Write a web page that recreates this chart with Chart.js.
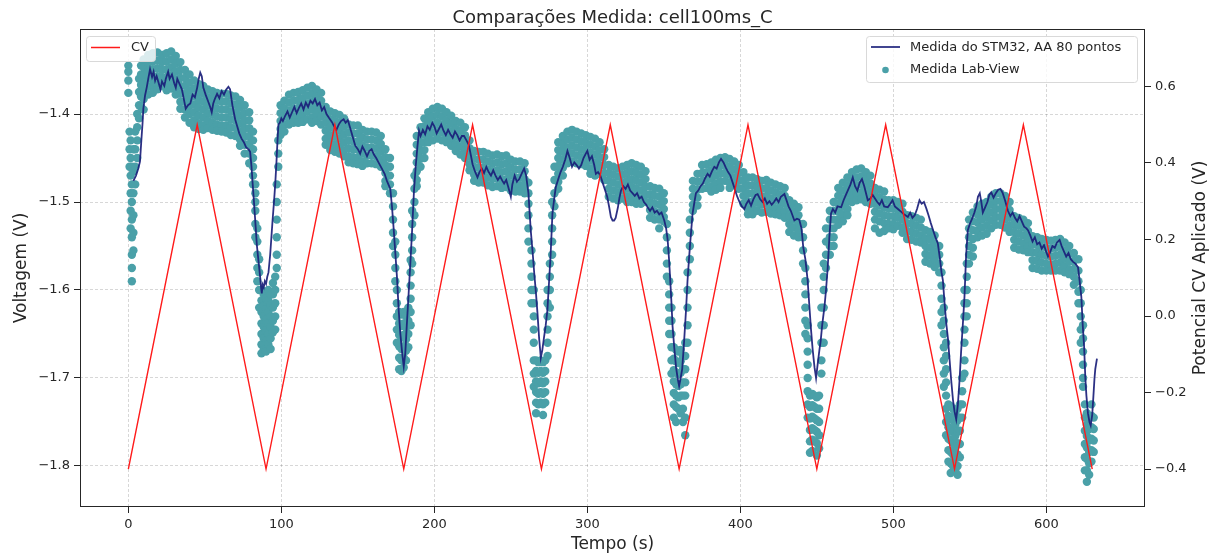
<!DOCTYPE html>
<html>
<head>
<meta charset="utf-8">
<script src="https://cdn.jsdelivr.net/npm/chart.js@4/dist/chart.umd.min.js"></script>
<style>
  html, body { margin: 0; padding: 0; background: #fff; }
  #wrap { width: 1217px; height: 559px; position: relative; }
</style>
</head>
<body>
<div id="wrap"><canvas id="grafico"></canvas></div>
<script>
// Potencial CV aplicado (onda triangular), eixo direito
const tempoCV = [0, 45, 90, 135, 180, 225, 270, 315, 360, 405, 450, 495, 540, 585, 630];
const cvAplicado = [-0.4, 0.5, -0.4, 0.5, -0.4, 0.5, -0.4, 0.5, -0.4, 0.5, -0.4, 0.5, -0.4, 0.5, -0.4];

// Ticks
const ticksTempo = [0, 100, 200, 300, 400, 500, 600];
const ticksVoltagem = [-1.8, -1.7, -1.6, -1.5, -1.4];
const ticksCV = [-0.4, -0.2, 0, 0.2, 0.4, 0.6];

// Medida do STM32 (media de 80 pontos): [tempo, voltagem]
const stmMedida = [
  [3.3,-1.476],[5,-1.47],[6.5,-1.462],[7.6,-1.454],[8.5,-1.43],[9.3,-1.41],[9.8,-1.394],[10.9,-1.379],[12,-1.37],[13,-1.36],
  [14.2,-1.349],[15.5,-1.358],[16.5,-1.352],[17.5,-1.362],[18.5,-1.357],[20,-1.366],[21,-1.372],[22,-1.363],[23.5,-1.368],[24.5,-1.36],
  [26,-1.352],[27,-1.36],[28.5,-1.355],[30,-1.365],[31,-1.37],[32,-1.36],[33.5,-1.366],[35,-1.372],[36.5,-1.385],[37.5,-1.394],
  [39,-1.39],[40.5,-1.388],[42,-1.378],[43.5,-1.381],[45,-1.37],[46,-1.36],[47,-1.353],[48,-1.357],[49,-1.37],[50.5,-1.378],
  [52,-1.385],[53.5,-1.392],[54.5,-1.398],[55.5,-1.388],[56.5,-1.383],[58,-1.377],[59.5,-1.382],[61,-1.374],[62.5,-1.378],[64,-1.372],
  [65.4,-1.369],[66.5,-1.372],[68,-1.39],[69.8,-1.406],[71,-1.413],[72.5,-1.422],[74,-1.428],[75.5,-1.432],[77,-1.438],[78.5,-1.44],
  [79.6,-1.443],[80.5,-1.46],[81.2,-1.478],[81.8,-1.492],[82.5,-1.51],[83.2,-1.528],[84,-1.549],[85,-1.566],[86.2,-1.586],[86.8,-1.598],
  [87.2,-1.604],[87.8,-1.594],[88.5,-1.597],[89.2,-1.59],[90,-1.593],[90.8,-1.585],[91.6,-1.58],[92.7,-1.56],[93.5,-1.54],[94.3,-1.52],
  [95.2,-1.5],[96,-1.48],[96.8,-1.455],[97.5,-1.43],[98.1,-1.412],[99,-1.41],[100,-1.405],[101,-1.408],[102.5,-1.402],[104,-1.397],
  [105.5,-1.404],[107,-1.398],[108.5,-1.392],[110,-1.399],[111.5,-1.393],[113,-1.388],[114.5,-1.395],[116,-1.387],[117.5,-1.392],[119,-1.385],
  [120.5,-1.388],[122,-1.383],[123.5,-1.39],[125,-1.387],[126.5,-1.396],[128,-1.392],[129.5,-1.4],[131,-1.404],[133,-1.409],[134.5,-1.414],
  [136,-1.418],[137.5,-1.412],[139,-1.408],[140.7,-1.406],[142,-1.41],[143.5,-1.407],[145,-1.416],[146.5,-1.425],[148.3,-1.436],[150,-1.44],
  [151.5,-1.445],[153,-1.437],[154.5,-1.442],[156,-1.448],[157.5,-1.442],[159,-1.44],[160.5,-1.446],[162,-1.45],[163.5,-1.455],[165.7,-1.462],
  [167.5,-1.468],[169,-1.476],[171.2,-1.485],[172.3,-1.505],[173.4,-1.53],[174.5,-1.558],[175.6,-1.586],[176.7,-1.623],[177.8,-1.65],[179,-1.672],
  [180,-1.687],[181,-1.672],[182,-1.64],[183.2,-1.604],[184.3,-1.57],[185.4,-1.535],[186.7,-1.487],[187.8,-1.46],[188.9,-1.438],[190,-1.419],
  [191,-1.425],[192.5,-1.418],[194,-1.423],[195.5,-1.414],[197,-1.418],[198.7,-1.41],[200,-1.414],[201.5,-1.422],[203,-1.417],[204.5,-1.412],
  [206,-1.419],[207.5,-1.424],[209,-1.418],[210.5,-1.423],[212,-1.427],[213.5,-1.42],[215,-1.424],[216.5,-1.43],[218,-1.425],[219.4,-1.425],
  [221,-1.43],[222.5,-1.435],[224,-1.448],[225,-1.457],[226.5,-1.465],[228.2,-1.472],[229.5,-1.466],[231,-1.462],[232.5,-1.467],[234,-1.46],
  [235.5,-1.466],[237,-1.47],[238.5,-1.464],[240,-1.47],[241.5,-1.475],[243,-1.471],[244.5,-1.476],[245.6,-1.479],[247,-1.475],[248.5,-1.484],
  [250,-1.494],[251,-1.48],[252.5,-1.47],[254,-1.477],[255.5,-1.474],[257,-1.468],[258.7,-1.462],[260,-1.47],[261.5,-1.49],[263,-1.532],
  [264.2,-1.556],[265.3,-1.581],[266.4,-1.603],[267.4,-1.626],[268.5,-1.655],[269.6,-1.677],[270.6,-1.668],[271.6,-1.655],[272.8,-1.64],[273.9,-1.623],
  [275,-1.59],[276,-1.56],[277.2,-1.513],[278.3,-1.497],[279.4,-1.483],[281,-1.474],[282.5,-1.466],[284,-1.46],[285.5,-1.452],[287,-1.442],
  [288.5,-1.45],[290,-1.46],[291.5,-1.455],[293,-1.458],[294.5,-1.462],[296,-1.458],[297.5,-1.45],[299,-1.445],[300,-1.442],[301.5,-1.452],
  [303,-1.448],[304.5,-1.458],[305.6,-1.468],[307,-1.466],[308.5,-1.47],[310,-1.478],[311.5,-1.486],[313,-1.494],[314.3,-1.506],[315.4,-1.517],
  [316.5,-1.521],[317.5,-1.521],[318.5,-1.518],[320,-1.506],[321,-1.495],[322,-1.487],[323.5,-1.482],[325,-1.485],[326.5,-1.48],[328,-1.487],
  [329.5,-1.49],[331,-1.493],[332.5,-1.49],[334,-1.496],[335.5,-1.494],[337,-1.5],[338.5,-1.503],[339.4,-1.506],[341,-1.51],[342.5,-1.506],
  [344,-1.512],[345.5,-1.51],[347,-1.514],[348.5,-1.512],[350.3,-1.521],[351.5,-1.53],[352.5,-1.543],[353.4,-1.565],[354.2,-1.589],[355,-1.615],
  [355.7,-1.641],[356.8,-1.665],[358,-1.688],[359,-1.7],[360,-1.709],[361,-1.7],[362,-1.69],[363.2,-1.66],[364.5,-1.623],[365.5,-1.589],
  [366.4,-1.566],[367.3,-1.545],[368.8,-1.513],[370,-1.5],[371,-1.49],[372.5,-1.487],[374,-1.482],[375.5,-1.479],[377,-1.473],[378.6,-1.468],
  [380,-1.471],[381.5,-1.465],[383,-1.46],[384.5,-1.462],[386,-1.455],[387.4,-1.451],[389,-1.455],[390.5,-1.461],[392,-1.466],[393.5,-1.47],
  [395,-1.478],[396.5,-1.486],[398,-1.494],[399.5,-1.5],[401,-1.505],[402.6,-1.508],[404,-1.502],[405.5,-1.498],[407,-1.504],[408.5,-1.497],
  [410,-1.492],[411.3,-1.491],[413,-1.497],[414.5,-1.5],[416,-1.496],[417.5,-1.502],[419,-1.499],[420.5,-1.503],[422,-1.5],[423.5,-1.496],
  [425,-1.5],[426.5,-1.494],[428.8,-1.491],[430,-1.497],[431.5,-1.505],[433,-1.51],[435.3,-1.521],[437,-1.519],[438.5,-1.52],[440,-1.53],
  [441.1,-1.551],[442.5,-1.565],[444,-1.589],[445,-1.615],[446.2,-1.645],[447.3,-1.668],[448.5,-1.688],[449.5,-1.7],[450.5,-1.685],[451.7,-1.668],
  [452.5,-1.658],[453.5,-1.64],[455,-1.619],[456,-1.6],[457.1,-1.575],[458.2,-1.54],[459.3,-1.513],[460.5,-1.508],[462,-1.512],[463.5,-1.505],
  [465.9,-1.506],[467.5,-1.498],[469,-1.492],[470.5,-1.486],[472,-1.48],[473.5,-1.472],[475,-1.482],[476.5,-1.487],[478,-1.478],[479.5,-1.474],
  [481,-1.482],[483.3,-1.498],[485,-1.496],[486.5,-1.492],[488,-1.496],[489.5,-1.5],[491,-1.503],[492.5,-1.498],[494,-1.505],[496.4,-1.506],
  [498,-1.502],[499.5,-1.498],[501,-1.505],[503,-1.508],[505,-1.511],[507,-1.514],[509.5,-1.517],[511,-1.512],[512.5,-1.518],[514,-1.515],
  [515.5,-1.508],[517.1,-1.498],[518.5,-1.502],[520,-1.5],[521.5,-1.507],[523,-1.515],[524.5,-1.524],[526,-1.532],[527.5,-1.54],[529.1,-1.547],
  [530.5,-1.565],[531.5,-1.58],[532.4,-1.589],[533.5,-1.615],[534.6,-1.638],[535.7,-1.655],[536.8,-1.68],[537.8,-1.702],[539,-1.725],[540,-1.738],
  [541.1,-1.747],[542.2,-1.73],[543.3,-1.702],[544.3,-1.67],[545.4,-1.64],[546.5,-1.608],[547.6,-1.56],[548.7,-1.532],[550,-1.525],[551.5,-1.519],
  [553,-1.512],[554.2,-1.505],[555.3,-1.494],[556.5,-1.49],[557.5,-1.5],[558.5,-1.512],[560,-1.506],[561.5,-1.5],[562.7,-1.492],[564,-1.489],
  [565.5,-1.495],[567,-1.49],[568.5,-1.486],[570,-1.485],[571.5,-1.49],[573,-1.498],[574.9,-1.51],[576.5,-1.516],[578,-1.512],[579.5,-1.518],
  [581,-1.522],[582.5,-1.516],[584,-1.522],[585.5,-1.528],[587,-1.53],[588,-1.532],[589.5,-1.538],[591,-1.545],[592.5,-1.54],[594,-1.548],
  [595.5,-1.546],[597,-1.553],[598.5,-1.549],[600,-1.557],[601.1,-1.562],[602.5,-1.557],[604,-1.55],[605.5,-1.552],[607,-1.546],[608.7,-1.543],
  [610,-1.55],[611.5,-1.556],[613,-1.562],[614.5,-1.558],[616,-1.565],[617.5,-1.568],[619,-1.57],[620.7,-1.574],[621.8,-1.59],[622.9,-1.608],
  [623.8,-1.64],[624.7,-1.664],[625.5,-1.7],[626.2,-1.72],[627.2,-1.74],[628.2,-1.75],[629,-1.754],[630,-1.742],[630.8,-1.72],[631.5,-1.7],
  [632,-1.69],[633.1,-1.678]
];

// Medida Lab-View: cada linha e [tempo, voltagens medidas naquele instante...]
const labColunas = [
  [0,-1.345,-1.352,-1.362,-1.376],
  [0.8,-1.42,-1.44,-1.46],
  [1.5,-1.43,-1.45,-1.47,-1.49,-1.51,-1.53],
  [2.3,-1.46,-1.48,-1.5,-1.52,-1.54,-1.56,-1.575,-1.59],
  [3.3,-1.44,-1.465,-1.49,-1.515,-1.535,-1.555],
  [4.5,-1.42,-1.44,-1.46,-1.48],
  [5.8,-1.4,-1.415,-1.43,-1.45],
  [7,-1.36,-1.375,-1.39,-1.405],
  [8.3,-1.345,-1.355,-1.367,-1.38,-1.392],
  [10,-1.338,-1.347,-1.356,-1.365,-1.374,-1.383,-1.395],
  [13,-1.333,-1.342,-1.351,-1.36,-1.369,-1.378],
  [16,-1.331,-1.34,-1.349,-1.358,-1.367,-1.376],
  [19,-1.33,-1.339,-1.348,-1.357,-1.366,-1.372],
  [22,-1.333,-1.341,-1.35,-1.359,-1.368],
  [25,-1.331,-1.34,-1.349,-1.358,-1.367,-1.373],
  [28,-1.329,-1.338,-1.347,-1.356,-1.365,-1.371],
  [31,-1.334,-1.343,-1.352,-1.361,-1.37,-1.378],
  [34,-1.341,-1.35,-1.359,-1.368,-1.377,-1.386,-1.394],
  [37,-1.35,-1.359,-1.368,-1.377,-1.386,-1.395,-1.404],
  [40,-1.355,-1.364,-1.373,-1.382,-1.391,-1.4,-1.41],
  [43,-1.362,-1.371,-1.38,-1.389,-1.398,-1.407,-1.415],
  [46,-1.366,-1.375,-1.384,-1.393,-1.402,-1.411,-1.417],
  [49,-1.368,-1.377,-1.386,-1.395,-1.404,-1.413,-1.418],
  [52,-1.372,-1.381,-1.39,-1.399,-1.408,-1.416],
  [55,-1.374,-1.383,-1.392,-1.401,-1.41,-1.418],
  [58,-1.376,-1.385,-1.394,-1.403,-1.412,-1.419],
  [61,-1.377,-1.386,-1.395,-1.404,-1.413,-1.42],
  [64,-1.377,-1.386,-1.395,-1.404,-1.413,-1.421],
  [67,-1.379,-1.388,-1.397,-1.406,-1.415,-1.424],
  [70,-1.38,-1.389,-1.398,-1.407,-1.416,-1.425],
  [73,-1.384,-1.393,-1.402,-1.411,-1.42,-1.429,-1.436],
  [76,-1.39,-1.399,-1.408,-1.417,-1.426,-1.435,-1.445],
  [79,-1.398,-1.407,-1.416,-1.425,-1.434,-1.445,-1.456],
  [81.5,-1.42,-1.43,-1.44,-1.45,-1.46,-1.47,-1.48],
  [83,-1.48,-1.49,-1.5,-1.51,-1.525,-1.54],
  [84.3,-1.53,-1.545,-1.56,-1.575,-1.59],
  [85.5,-1.565,-1.58,-1.6,-1.62],
  [87,-1.6,-1.612,-1.625,-1.638,-1.65,-1.662,-1.672],
  [88.5,-1.605,-1.618,-1.63,-1.642,-1.655,-1.668],
  [90,-1.61,-1.622,-1.634,-1.646,-1.658,-1.67],
  [91.5,-1.6,-1.612,-1.625,-1.638,-1.65,-1.662],
  [93,-1.605,-1.617,-1.63,-1.642,-1.655,-1.667],
  [94.5,-1.592,-1.605,-1.62,-1.635,-1.648],
  [96,-1.585,-1.6,-1.615,-1.63,-1.645],
  [97,-1.48,-1.5,-1.52,-1.54,-1.56,-1.575],
  [98,-1.43,-1.445,-1.46],
  [99.5,-1.39,-1.399,-1.408,-1.417,-1.424],
  [102,-1.385,-1.394,-1.403,-1.412,-1.42],
  [105,-1.378,-1.387,-1.396,-1.405,-1.412],
  [108,-1.376,-1.385,-1.394,-1.403,-1.41],
  [111,-1.375,-1.384,-1.393,-1.402,-1.41],
  [114,-1.373,-1.382,-1.391,-1.4,-1.409],
  [117,-1.37,-1.379,-1.388,-1.397,-1.406],
  [120,-1.368,-1.377,-1.386,-1.395,-1.404,-1.41],
  [123,-1.372,-1.381,-1.39,-1.399,-1.408],
  [126,-1.376,-1.385,-1.394,-1.403,-1.412],
  [129,-1.392,-1.401,-1.41,-1.419,-1.428,-1.435],
  [132,-1.397,-1.406,-1.415,-1.424,-1.433,-1.441],
  [135,-1.399,-1.408,-1.417,-1.426,-1.435,-1.443],
  [138,-1.401,-1.41,-1.419,-1.428,-1.437,-1.445],
  [141,-1.405,-1.414,-1.423,-1.432,-1.441,-1.448],
  [144,-1.412,-1.421,-1.43,-1.439,-1.448,-1.455],
  [147,-1.413,-1.422,-1.431,-1.44,-1.449,-1.456],
  [150,-1.413,-1.422,-1.431,-1.44,-1.449,-1.457],
  [153,-1.418,-1.427,-1.436,-1.445,-1.454,-1.459],
  [156,-1.42,-1.429,-1.438,-1.447,-1.456],
  [159,-1.42,-1.429,-1.438,-1.447,-1.456],
  [162,-1.421,-1.43,-1.439,-1.448,-1.457],
  [165,-1.425,-1.434,-1.443,-1.452,-1.46],
  [168,-1.44,-1.449,-1.458,-1.467,-1.476,-1.482],
  [171,-1.45,-1.46,-1.47,-1.48,-1.49],
  [173,-1.49,-1.505,-1.52,-1.535,-1.55],
  [174.5,-1.545,-1.56,-1.575,-1.59],
  [175.5,-1.6,-1.615,-1.63,-1.645,-1.66],
  [177,-1.625,-1.638,-1.651,-1.664,-1.677,-1.69],
  [178.5,-1.628,-1.641,-1.654,-1.667,-1.68,-1.692],
  [180,-1.625,-1.638,-1.651,-1.664,-1.677,-1.688],
  [181.5,-1.63,-1.643,-1.656,-1.669,-1.68],
  [183,-1.62,-1.635,-1.65,-1.665],
  [184.5,-1.566,-1.58,-1.595,-1.61,-1.625,-1.64],
  [185.5,-1.51,-1.525,-1.54,-1.555,-1.57],
  [187,-1.47,-1.485,-1.5,-1.515],
  [188.5,-1.425,-1.435,-1.445,-1.455,-1.465,-1.475,-1.482],
  [191,-1.415,-1.424,-1.433,-1.442,-1.451,-1.46],
  [193.5,-1.405,-1.414,-1.423,-1.432,-1.441,-1.45],
  [196,-1.398,-1.407,-1.416,-1.425,-1.432],
  [199,-1.394,-1.403,-1.412,-1.421,-1.43],
  [202,-1.392,-1.401,-1.41,-1.419,-1.428],
  [205,-1.394,-1.403,-1.412,-1.421,-1.43],
  [208,-1.398,-1.407,-1.416,-1.425,-1.432],
  [211,-1.402,-1.411,-1.42,-1.429,-1.436],
  [214,-1.408,-1.417,-1.426,-1.435,-1.442],
  [217,-1.41,-1.419,-1.428,-1.437,-1.446],
  [220,-1.415,-1.424,-1.433,-1.442,-1.45],
  [223,-1.43,-1.439,-1.448,-1.457,-1.464],
  [226,-1.442,-1.451,-1.46,-1.469,-1.476],
  [229,-1.443,-1.452,-1.461,-1.47,-1.478],
  [232,-1.443,-1.452,-1.461,-1.47,-1.478],
  [235,-1.445,-1.454,-1.463,-1.472,-1.481],
  [238,-1.447,-1.456,-1.465,-1.474,-1.483],
  [241,-1.446,-1.455,-1.464,-1.473,-1.482],
  [244,-1.448,-1.457,-1.466,-1.475,-1.484],
  [247,-1.447,-1.456,-1.465,-1.474,-1.483],
  [250,-1.452,-1.461,-1.47,-1.479,-1.487],
  [253,-1.454,-1.463,-1.472,-1.481,-1.488],
  [256,-1.454,-1.463,-1.472,-1.481,-1.488],
  [259,-1.456,-1.465,-1.474,-1.483,-1.49],
  [261.5,-1.478,-1.49,-1.502,-1.515,-1.53,-1.545],
  [263.5,-1.555,-1.57,-1.585,-1.6,-1.615],
  [265,-1.6,-1.615,-1.63,-1.645,-1.66,-1.68,-1.695,-1.71],
  [266.5,-1.68,-1.692,-1.704,-1.716,-1.728,-1.74],
  [268,-1.682,-1.694,-1.706,-1.718,-1.73],
  [269.5,-1.68,-1.692,-1.704,-1.716,-1.728],
  [271,-1.682,-1.694,-1.706,-1.718,-1.73,-1.742],
  [272.5,-1.68,-1.692,-1.704,-1.716,-1.728],
  [274,-1.6,-1.615,-1.63,-1.645,-1.66,-1.675],
  [275.5,-1.57,-1.585,-1.6,-1.62],
  [277,-1.5,-1.515,-1.53,-1.545,-1.56],
  [278.5,-1.46,-1.475,-1.49,-1.505],
  [281,-1.432,-1.441,-1.45,-1.459,-1.468,-1.477,-1.485],
  [284,-1.425,-1.434,-1.443,-1.452,-1.461,-1.47],
  [287,-1.42,-1.429,-1.438,-1.447,-1.456],
  [290,-1.418,-1.427,-1.436,-1.445,-1.454],
  [293,-1.42,-1.429,-1.438,-1.447,-1.456],
  [296,-1.422,-1.431,-1.44,-1.449,-1.457],
  [299,-1.424,-1.433,-1.442,-1.451,-1.459],
  [302,-1.426,-1.435,-1.444,-1.453,-1.462,-1.468],
  [305,-1.428,-1.437,-1.446,-1.455,-1.464,-1.47],
  [308,-1.432,-1.441,-1.45,-1.459,-1.468],
  [311,-1.44,-1.449,-1.458,-1.467,-1.475],
  [314,-1.458,-1.467,-1.476,-1.485,-1.494],
  [317,-1.46,-1.469,-1.478,-1.487,-1.496],
  [320,-1.462,-1.471,-1.48,-1.489,-1.498],
  [323,-1.46,-1.469,-1.478,-1.487,-1.496],
  [326,-1.458,-1.467,-1.476,-1.485,-1.494,-1.5],
  [329,-1.456,-1.465,-1.474,-1.483,-1.492,-1.5],
  [332,-1.458,-1.467,-1.476,-1.485,-1.494,-1.502],
  [335,-1.46,-1.469,-1.478,-1.487,-1.496,-1.502],
  [338,-1.465,-1.474,-1.483,-1.492,-1.5],
  [341,-1.482,-1.491,-1.5,-1.509,-1.518],
  [344,-1.484,-1.493,-1.502,-1.511,-1.52],
  [347,-1.485,-1.494,-1.503,-1.512,-1.52,-1.53],
  [350,-1.49,-1.499,-1.508,-1.517,-1.522],
  [352,-1.525,-1.54,-1.555,-1.57,-1.585],
  [353.5,-1.59,-1.605,-1.62,-1.635,-1.65],
  [355,-1.62,-1.635,-1.65,-1.665,-1.68,-1.695],
  [356.5,-1.665,-1.678,-1.691,-1.704,-1.717,-1.73,-1.745],
  [358,-1.668,-1.681,-1.694,-1.707,-1.72,-1.733,-1.75],
  [359.5,-1.67,-1.683,-1.696,-1.709,-1.722,-1.735],
  [361,-1.668,-1.681,-1.694,-1.707,-1.72,-1.74],
  [362.5,-1.675,-1.69,-1.705,-1.72,-1.735,-1.75],
  [364,-1.66,-1.675,-1.69,-1.705,-1.72,-1.745,-1.765],
  [365.5,-1.58,-1.6,-1.62,-1.64,-1.66],
  [367,-1.52,-1.535,-1.55,-1.565],
  [369,-1.476,-1.485,-1.494,-1.503,-1.51],
  [372,-1.468,-1.477,-1.486,-1.495,-1.504],
  [375,-1.458,-1.467,-1.476,-1.485],
  [378,-1.457,-1.466,-1.475,-1.484],
  [381,-1.455,-1.464,-1.473,-1.482,-1.488],
  [384,-1.452,-1.461,-1.47,-1.479,-1.486],
  [387,-1.45,-1.459,-1.468,-1.477,-1.484],
  [390,-1.449,-1.458,-1.467,-1.476],
  [393,-1.451,-1.46,-1.469,-1.478,-1.484],
  [396,-1.454,-1.463,-1.472,-1.481],
  [399,-1.458,-1.467,-1.476,-1.485],
  [402,-1.466,-1.475,-1.484,-1.493,-1.502],
  [405,-1.472,-1.481,-1.49,-1.499,-1.508,-1.514],
  [408,-1.472,-1.481,-1.49,-1.499,-1.508,-1.514],
  [411,-1.474,-1.483,-1.492,-1.501,-1.51],
  [414,-1.476,-1.485,-1.494,-1.503,-1.512],
  [417,-1.475,-1.484,-1.493,-1.502,-1.511],
  [420,-1.478,-1.487,-1.496,-1.505,-1.513],
  [423,-1.48,-1.489,-1.498,-1.507,-1.514],
  [426,-1.482,-1.491,-1.5,-1.509,-1.515],
  [429,-1.484,-1.493,-1.502,-1.511,-1.518],
  [432,-1.498,-1.507,-1.516,-1.525,-1.534],
  [435,-1.502,-1.511,-1.52,-1.529,-1.538],
  [438,-1.506,-1.515,-1.524,-1.533,-1.54],
  [441,-1.525,-1.54,-1.555,-1.57],
  [442.5,-1.575,-1.59,-1.605,-1.62,-1.635,-1.65],
  [444,-1.64,-1.655,-1.67,-1.685,-1.7,-1.715,-1.73,-1.745],
  [445.5,-1.72,-1.733,-1.746,-1.759,-1.772,-1.785],
  [447,-1.718,-1.731,-1.744,-1.757,-1.77,-1.783],
  [448.5,-1.72,-1.733,-1.746,-1.759,-1.772],
  [450,-1.722,-1.735,-1.748,-1.761,-1.774,-1.788],
  [451.5,-1.72,-1.735,-1.75,-1.765,-1.78],
  [453,-1.62,-1.64,-1.66,-1.68,-1.695],
  [454.5,-1.57,-1.585,-1.6,-1.62,-1.64,-1.66],
  [456,-1.53,-1.545,-1.56,-1.575],
  [458.5,-1.51,-1.52,-1.53,-1.54,-1.55,-1.56],
  [461,-1.5,-1.51,-1.52,-1.53,-1.54,-1.55],
  [464,-1.484,-1.493,-1.502,-1.511,-1.52,-1.526],
  [467,-1.478,-1.487,-1.496,-1.505,-1.514,-1.522],
  [470,-1.472,-1.481,-1.49,-1.499,-1.508,-1.515],
  [473,-1.466,-1.475,-1.484,-1.493,-1.5],
  [476,-1.463,-1.472,-1.481,-1.49,-1.498],
  [479,-1.462,-1.471,-1.48,-1.489,-1.497],
  [482,-1.466,-1.475,-1.484,-1.493,-1.5],
  [485,-1.47,-1.479,-1.488,-1.497,-1.502],
  [488,-1.484,-1.493,-1.502,-1.511,-1.52,-1.53],
  [491,-1.486,-1.495,-1.504,-1.513,-1.522,-1.535],
  [494,-1.488,-1.497,-1.506,-1.515,-1.524,-1.533],
  [497,-1.498,-1.507,-1.516,-1.525,-1.53],
  [500,-1.498,-1.507,-1.516,-1.525,-1.531],
  [503,-1.5,-1.509,-1.518,-1.527],
  [506,-1.502,-1.511,-1.52,-1.529,-1.535],
  [509,-1.515,-1.524,-1.533,-1.542],
  [512,-1.516,-1.525,-1.534,-1.543],
  [515,-1.518,-1.527,-1.536,-1.545],
  [518,-1.52,-1.529,-1.538,-1.546],
  [521,-1.532,-1.541,-1.55,-1.559,-1.568],
  [524,-1.534,-1.543,-1.552,-1.561,-1.57],
  [527,-1.538,-1.547,-1.556,-1.565,-1.574],
  [530,-1.55,-1.56,-1.57,-1.58],
  [531.5,-1.58,-1.595,-1.61,-1.625,-1.64],
  [533,-1.62,-1.635,-1.65,-1.665,-1.68,-1.695,-1.71],
  [534.5,-1.66,-1.675,-1.69,-1.705,-1.72,-1.735,-1.75,-1.765],
  [536,-1.73,-1.743,-1.756,-1.769,-1.782,-1.795],
  [537.5,-1.732,-1.745,-1.758,-1.771,-1.784,-1.797,-1.808],
  [539,-1.735,-1.748,-1.761,-1.774,-1.787,-1.8],
  [540.5,-1.74,-1.753,-1.766,-1.779,-1.792,-1.805],
  [542,-1.735,-1.748,-1.761,-1.774,-1.787,-1.8,-1.81],
  [543.5,-1.73,-1.745,-1.76,-1.775,-1.79],
  [545,-1.7,-1.715,-1.73,-1.745],
  [546.5,-1.6,-1.615,-1.63,-1.645,-1.66,-1.68,-1.695],
  [548,-1.57,-1.585,-1.6,-1.615,-1.63],
  [549.5,-1.52,-1.53,-1.54,-1.55,-1.56,-1.57],
  [552,-1.512,-1.522,-1.532,-1.542,-1.552,-1.562],
  [555,-1.505,-1.514,-1.523,-1.532,-1.54],
  [558,-1.502,-1.511,-1.52,-1.529,-1.538],
  [561,-1.5,-1.509,-1.518,-1.527,-1.536],
  [564,-1.494,-1.503,-1.512,-1.521,-1.53],
  [567,-1.49,-1.499,-1.508,-1.517,-1.526],
  [570,-1.49,-1.499,-1.508,-1.517,-1.526],
  [573,-1.493,-1.502,-1.511,-1.52,-1.529],
  [576,-1.5,-1.509,-1.518,-1.527,-1.534],
  [579,-1.516,-1.525,-1.534,-1.543,-1.552],
  [582,-1.518,-1.527,-1.536,-1.545,-1.554],
  [585,-1.52,-1.529,-1.538,-1.547,-1.555],
  [588,-1.524,-1.533,-1.542,-1.551,-1.557],
  [591,-1.539,-1.548,-1.557,-1.566,-1.575],
  [594,-1.54,-1.549,-1.558,-1.567,-1.576],
  [597,-1.542,-1.551,-1.56,-1.569,-1.578],
  [600,-1.543,-1.552,-1.561,-1.57,-1.578],
  [603,-1.544,-1.553,-1.562,-1.571,-1.578],
  [606,-1.543,-1.552,-1.561,-1.57,-1.578],
  [609,-1.542,-1.551,-1.56,-1.569,-1.578],
  [612,-1.546,-1.555,-1.564,-1.573,-1.58],
  [615,-1.55,-1.559,-1.568,-1.577,-1.582],
  [618,-1.558,-1.567,-1.576,-1.585,-1.594],
  [621,-1.565,-1.578,-1.59,-1.602,-1.615],
  [622.5,-1.6,-1.615,-1.63,-1.645,-1.66],
  [624,-1.64,-1.655,-1.67,-1.685,-1.7,-1.71],
  [625.2,-1.73,-1.745,-1.76,-1.775,-1.79,-1.805],
  [626.5,-1.74,-1.753,-1.766,-1.779,-1.792,-1.805,-1.818],
  [628,-1.745,-1.758,-1.771,-1.784,-1.797,-1.81],
  [629.5,-1.73,-1.743,-1.756,-1.769,-1.782,-1.795],
  [631,-1.745,-1.758,-1.771,-1.784]
];

const FONTE = "'DejaVu Sans', sans-serif";
const COR_TEXTO = '#262626';
const COR_CV = '#ff1a1a';
const COR_STM = 'rgba(26, 30, 122, 0.92)';
const COR_LAB = '#4aa0a8';

// formata ticks com sinal de menos tipografico
const fmt = (v) => {
  const s = Math.abs(v) < 1e-9 ? '0.0' : v.toFixed(1);
  return s.replace('-', '\u2212');
};

const pontosCV = tempoCV.map((t, i) => ({ x: t, y: cvAplicado[i] }));
const pontosSTM = stmMedida.map(p => ({ x: p[0], y: p[1] }));
const pontosLab = [];
labColunas.forEach(col => {
  for (let k = 1; k < col.length; k++) pontosLab.push({ x: col[0], y: col[k] });
});

// titulo, moldura, titulo do eixo direito e as duas legendas
const moldura = {
  id: 'moldura',
  afterDraw(chart) {
    const { ctx, chartArea: a } = chart;
    ctx.save();
    ctx.strokeStyle = COR_TEXTO;
    ctx.lineWidth = 1;
    ctx.strokeRect(Math.round(a.left) + 0.5, Math.round(a.top) + 0.5,
                   Math.round(a.right - a.left) - 1, Math.round(a.bottom - a.top) - 1);

    ctx.fillStyle = COR_TEXTO;
    ctx.font = '18px ' + FONTE;
    ctx.textAlign = 'center';
    ctx.textBaseline = 'alphabetic';
    ctx.fillText('Comparações Medida: cell100ms_C', (a.left + a.right) / 2, 23);

    // eixo direito: texto lido de baixo para cima, como no original
    ctx.save();
    ctx.translate(1201, (a.top + a.bottom) / 2);
    ctx.rotate(-Math.PI / 2);
    ctx.font = '17px ' + FONTE;
    ctx.textBaseline = 'middle';
    ctx.fillText('Potencial CV Aplicado (V)', 0, 0);
    ctx.restore();

    const caixa = (x, y, w, h) => {
      ctx.beginPath();
      ctx.roundRect(x + 0.5, y + 0.5, w, h, 3);
      ctx.fillStyle = 'rgba(255,255,255,0.8)';
      ctx.fill();
      ctx.strokeStyle = '#d9d9d9';
      ctx.lineWidth = 1;
      ctx.stroke();
    };
    ctx.font = '13px ' + FONTE;
    ctx.textAlign = 'left';
    ctx.textBaseline = 'middle';

    // legenda CV
    caixa(86, 36, 69, 25);
    ctx.strokeStyle = COR_CV;
    ctx.lineWidth = 1.5;
    ctx.beginPath(); ctx.moveTo(91, 47.5); ctx.lineTo(120, 47.5); ctx.stroke();
    ctx.fillStyle = COR_TEXTO;
    ctx.fillText('CV', 131, 48);

    // legenda das medidas
    caixa(866, 36, 271, 46);
    ctx.strokeStyle = COR_STM;
    ctx.lineWidth = 1.8;
    ctx.beginPath(); ctx.moveTo(871, 47); ctx.lineTo(900, 47); ctx.stroke();
    ctx.fillStyle = COR_LAB;
    ctx.beginPath(); ctx.arc(885.5, 70, 3.3, 0, Math.PI * 2); ctx.fill();
    ctx.fillStyle = COR_TEXTO;
    ctx.fillText('Medida do STM32, AA 80 pontos', 910, 47.5);
    ctx.fillText('Medida Lab-View', 910, 69.5);
    ctx.restore();
  }
};

const gradeComum = {
  color: 'rgba(0,0,0,0.2)',
  lineWidth: 0.8,
  tickColor: COR_TEXTO,
  tickWidth: 1,
  tickLength: 6
};

new Chart(document.getElementById('grafico'), {
  type: 'line',
  data: {
    datasets: [
      {
        label: 'CV',
        data: pontosCV,
        yAxisID: 'y2',
        borderColor: COR_CV,
        borderWidth: 1.4,
        pointRadius: 0,
        tension: 0,
        order: 0
      },
      {
        label: 'Medida do STM32, AA 80 pontos',
        data: pontosSTM,
        yAxisID: 'y',
        borderColor: COR_STM,
        borderWidth: 1.8,
        pointRadius: 0,
        tension: 0,
        order: 1
      },
      {
        type: 'scatter',
        label: 'Medida Lab-View',
        data: pontosLab,
        yAxisID: 'y',
        showLine: false,
        backgroundColor: COR_LAB,
        borderWidth: 0,
        pointRadius: 4.2,
        order: 2
      }
    ]
  },
  options: {
    responsive: true,
    maintainAspectRatio: false,
    animation: false,
    events: [],
    layout: { padding: { top: 29, left: 0, right: 0, bottom: 0 } },
    plugins: { legend: { display: false }, title: { display: false }, tooltip: { enabled: false } },
    scales: {
      x: {
        type: 'linear',
        position: 'bottom',
        min: -31.6,
        max: 664.5,
        afterBuildTicks: (s) => { s.ticks = ticksTempo.map(v => ({ value: v })); },
        afterFit: (s) => { s.height = 52; },
        ticks: { color: COR_TEXTO, font: { family: FONTE, size: 13 }, padding: 4, callback: (v) => String(v), maxRotation: 0 },
        grid: gradeComum,
        border: { display: false, dash: [3, 2] },
        title: { display: true, text: 'Tempo (s)', color: COR_TEXTO, font: { family: FONTE, size: 17 }, padding: { top: 0, bottom: 4 } }
      },
      y: {
        type: 'linear',
        position: 'left',
        min: -1.8466,
        max: -1.3034,
        afterBuildTicks: (s) => { s.ticks = ticksVoltagem.map(v => ({ value: v })); },
        afterFit: (s) => { s.width = 80; },
        ticks: { color: COR_TEXTO, font: { family: FONTE, size: 13 }, padding: 4, callback: fmt },
        grid: gradeComum,
        border: { display: false, dash: [3, 2] },
        title: { display: true, text: 'Voltagem (V)', color: COR_TEXTO, font: { family: FONTE, size: 17 }, padding: { top: 11, bottom: 0 } }
      },
      y2: {
        type: 'linear',
        position: 'right',
        min: -0.4993,
        max: 0.7503,
        afterBuildTicks: (s) => { s.ticks = ticksCV.map(v => ({ value: v })); },
        afterFit: (s) => { s.width = 72; },
        ticks: { color: COR_TEXTO, font: { family: FONTE, size: 13 }, padding: 4, callback: fmt },
        grid: Object.assign({}, gradeComum, { drawOnChartArea: false }),
        border: { display: false },
        title: { display: false }
      }
    }
  },
  plugins: [moldura]
});
</script>
</body>
</html>
